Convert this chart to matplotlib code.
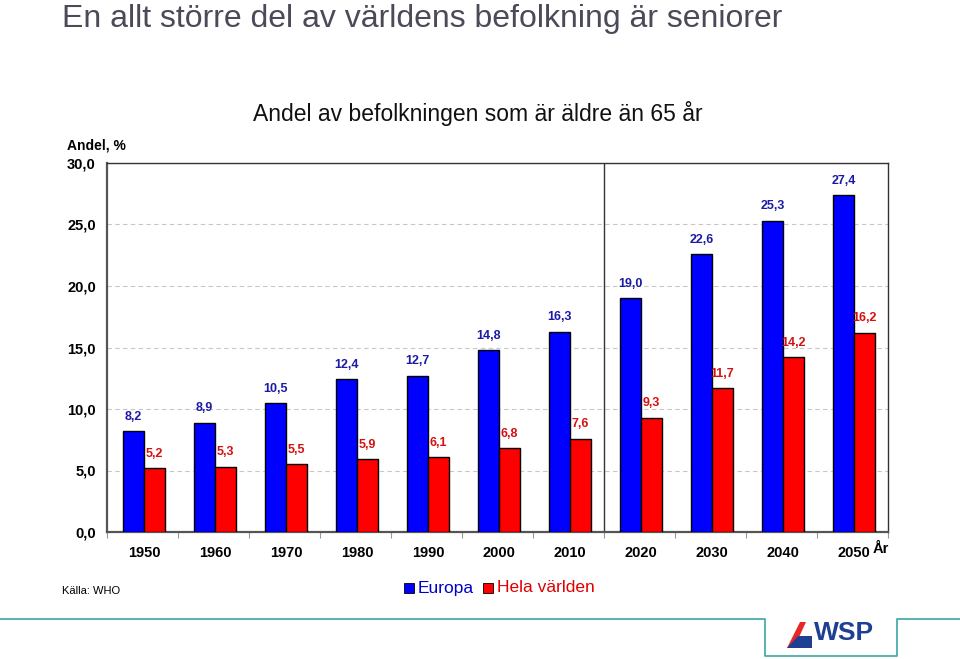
import matplotlib
matplotlib.use("Agg")
import matplotlib.pyplot as plt
from matplotlib.patches import Rectangle, Polygon
from matplotlib.lines import Line2D
import numpy as np

years = ["1950", "1960", "1970", "1980", "1990", "2000", "2010", "2020", "2030", "2040", "2050"]
europa = [8.2, 8.9, 10.5, 12.4, 12.7, 14.8, 16.3, 19.0, 22.6, 25.3, 27.4]
world = [5.2, 5.3, 5.5, 5.9, 6.1, 6.8, 7.6, 9.3, 11.7, 14.2, 16.2]
yticks = [0, 5, 10, 15, 20, 25, 30]

plt.rcParams['font.family'] = ['Liberation Sans', 'DejaVu Sans']

fig = plt.figure(figsize=(9.6, 6.59), dpi=100)
ax = fig.add_axes([107/960, 1-532/659, 781/960, 369/659])

x = np.arange(len(years))
w = 0.295
blue_c = "#0000FF"
red_c = "#FF0000"
ax.bar(x - w/2 + 0.02, europa, w, color=blue_c, edgecolor="black", linewidth=1, zorder=3)
ax.bar(x + w/2 + 0.02, world, w, color=red_c, edgecolor="black", linewidth=1, zorder=3)

def fmt(v):
    return f"{v:.1f}".replace(".", ",")

for xi, v in zip(x, europa):
    ax.annotate(fmt(v), (xi - w/2 + 0.02, v), xytext=(0, 6), textcoords="offset points",
                ha="center", va="bottom", fontsize=9, fontweight="bold", color="#1a1aa6")
for xi, v in zip(x, world):
    ax.annotate(fmt(v), (xi + w/2 + 0.02, v), xytext=(0, 6), textcoords="offset points",
                ha="center", va="bottom", fontsize=9, fontweight="bold", color="#d41010")

ax.set_xlim(-0.5, len(years) - 0.5)
ax.set_ylim(0, 30)
ax.set_yticks(yticks)
ax.set_yticklabels([fmt(v) for v in yticks], fontsize=10.5, fontweight="bold")
ax.set_xticks(x + 0.02)
ax.set_xticklabels(years, fontsize=10.5, fontweight="bold")
ax.tick_params(axis="x", length=0, pad=10)
ax.set_xticks(np.arange(-0.5, len(years) + 0.5, 1), minor=True)
ax.tick_params(axis="x", which="minor", length=4, color="#999999", width=0.8)
ax.tick_params(axis="y", length=0, pad=8)

ax.yaxis.grid(True, linestyle=(0, (4, 3)), color="#c8c8c8", linewidth=0.8, zorder=0)
ax.set_axisbelow(True)

for s in ["left", "bottom"]:
    ax.spines[s].set_color("#555555")
    ax.spines[s].set_linewidth(1.6)
for s in ["top", "right"]:
    ax.spines[s].set_color("#333333")
    ax.spines[s].set_linewidth(1.0)

ax.axvline(6.5, color="#333333", linewidth=1.0, zorder=2)

fig.text(881/960, 1-549/659, "År", ha="center", va="center",
         fontsize=10.5, fontweight="bold")

# titles
fig.text(62/960, 1-27/659, "En allt större del av världens befolkning är seniorer",
         fontsize=23, color="#4a4a58", ha="left", va="baseline")
fig.text(478/960, 1-113/659, "Andel av befolkningen som är äldre än 65 år",
         fontsize=16.5, color="#111111", ha="center", va="center")
fig.text(67/960, 1-145/659, "Andel, %", fontsize=10, fontweight="bold", ha="left", va="center")

# legend
fig.patches.append(Rectangle((404/960, 1-593/659), 10/960, 10/659, transform=fig.transFigure,
                             facecolor=blue_c, edgecolor="black", linewidth=0.6))
fig.text(418/960, 1-588/659, "Europa", fontsize=12.5, color="#0000cc", ha="left", va="center")
fig.patches.append(Rectangle((483/960, 1-593/659), 10/960, 10/659, transform=fig.transFigure,
                             facecolor=red_c, edgecolor="black", linewidth=0.6))
fig.text(497/960, 1-588/659, "Hela världen", fontsize=12.5, color="#e00000", ha="left", va="center")

fig.text(62/960, 1-591/659, "Källa: WHO", fontsize=8, ha="left", va="center")

# footer line and logo box
teal = "#3aa6a8"
fig.lines.append(Line2D([0, 765/960, 765/960, 897/960, 897/960, 1.0],
                        [1-619/659, 1-619/659, 1-656/659, 1-656/659, 1-619/659, 1-619/659],
                        transform=fig.transFigure, color=teal, linewidth=1.2))
# logo icon
fig.patches.append(Polygon([(787/960, 1-648/659), (800/960, 1-622/659), (806/960, 1-622/659), (794/960, 1-648/659)],
                           closed=True, transform=fig.transFigure, facecolor="#e8262a", edgecolor="none"))
fig.patches.append(Polygon([(787/960, 1-648/659), (812/960, 1-648/659), (812/960, 1-636/659), (798/960, 1-636/659)],
                           closed=True, transform=fig.transFigure, facecolor="#1f3f93", edgecolor="none"))
fig.text(814/960, 1-633/659, "WSP", fontsize=19, fontweight="bold", color="#1f3f93",
         ha="left", va="center")

fig.savefig("out.png", dpi=100)
